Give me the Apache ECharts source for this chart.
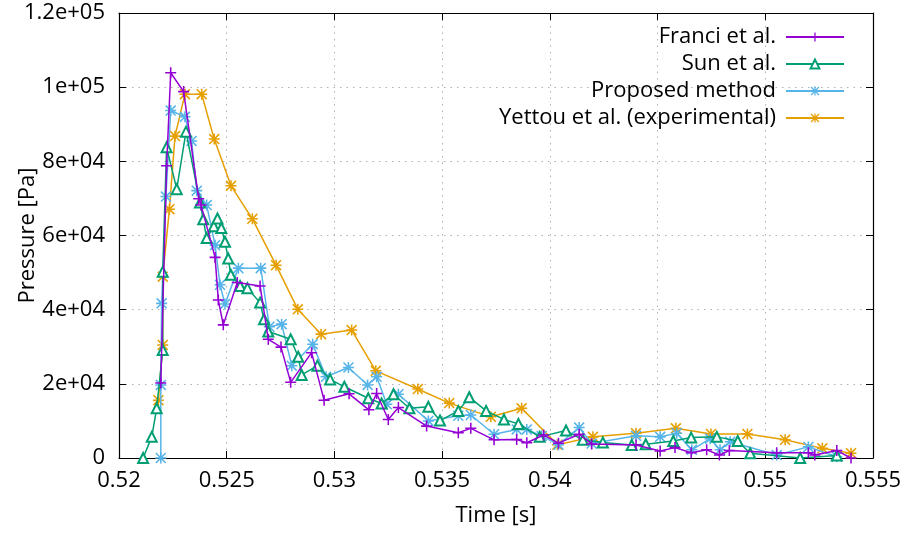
<!DOCTYPE html>
<html>
<head>
<meta charset="utf-8">
<script src="https://cdn.jsdelivr.net/npm/echarts@6/dist/echarts.min.js"></script>
<style>
  html, body { margin: 0; padding: 0; background: #fff; }
  #chart { width: 905px; height: 534px; }
</style>
</head>
<body>
<div id="chart"></div>
<script>
// pressure time histories
var franciX = [0.52194, 0.52221, 0.52240, 0.52300, 0.52370, 0.52381, 0.52446, 0.52461, 0.52484, 0.52549,
    0.52655, 0.52693, 0.52752, 0.52797, 0.52894, 0.52952, 0.53068, 0.53160, 0.53196, 0.53250,
    0.53297, 0.53428, 0.53575, 0.53633, 0.53741, 0.53846, 0.53893, 0.53971, 0.54040, 0.54136,
    0.54194, 0.54400, 0.54512, 0.54581, 0.54656, 0.54728, 0.54787, 0.54833, 0.55053, 0.55200,
    0.55230, 0.55332, 0.55398];
var franciY = [20200, 78800, 103900, 98800, 69900, 68200, 54100, 42600, 35900, 47300,
    46400, 32000, 29900, 20400, 28400, 15600, 17300, 13000, 17400, 10400,
    13600, 8600, 6800, 8000, 4900, 5000, 4100, 6200, 4000, 6400,
    3800, 3500, 1900, 2800, 1400, 2200, 800, 2000, 1400, 1400,
    800, 2000, 0];

var sunX = [0.52112, 0.52152, 0.52175, 0.52203, 0.52203, 0.52221, 0.52268, 0.52311, 0.52376, 0.52391,
    0.52407, 0.52440, 0.52457, 0.52475, 0.52492, 0.52507, 0.52519, 0.52562, 0.52596, 0.52655,
    0.52673, 0.52693, 0.52797, 0.52832, 0.52848, 0.52921, 0.52980, 0.53046, 0.53157, 0.53219,
    0.53274, 0.53348, 0.53436, 0.53490, 0.53575, 0.53626, 0.53704, 0.53787, 0.53854, 0.53953,
    0.54075, 0.54153, 0.54246, 0.54380, 0.54445, 0.54573, 0.54656, 0.54775, 0.54872, 0.54930,
    0.55162, 0.55332];
var sunY = [0, 5700, 13400, 29100, 50200, 83800, 72500, 88000, 68900, 64400,
    59300, 62500, 64600, 62000, 58300, 53800, 49400, 46400, 45800, 41900,
    37400, 34100, 32000, 27300, 22400, 24900, 21200, 19200, 16100, 14700,
    17200, 13400, 13800, 10100, 12700, 16400, 12700, 10400, 9200, 5700,
    7400, 4900, 4200, 3500, 3700, 4600, 5500, 5700, 4600, 1300,
    0, 700];

var proposedX = [0.52194, 0.52194, 0.52198, 0.52218, 0.52240, 0.52306, 0.52337, 0.52361, 0.52407, 0.52446,
    0.52469, 0.52492, 0.52554, 0.52658, 0.52698, 0.52755, 0.52802, 0.52899, 0.52961, 0.53065,
    0.53154, 0.53196, 0.53243, 0.53297, 0.53436, 0.53575, 0.53633, 0.53741, 0.53846, 0.53893,
    0.53962, 0.54040, 0.54136, 0.54194, 0.54400, 0.54512, 0.54589, 0.54659, 0.54744, 0.54790,
    0.54837, 0.55053, 0.55200, 0.55332];
var proposedY = [0, 19700, 41700, 70500, 93700, 92000, 85500, 72100, 68200, 57400,
    46700, 41500, 51200, 51200, 35400, 36100, 24900, 30700, 21900, 24400,
    19700, 21900, 14500, 17200, 10000, 11400, 11600, 6400, 7700, 7700,
    5900, 3600, 8200, 3900, 6000, 5700, 6700, 2200, 5200, 2200,
    4400, 800, 3000, 350];

var yettouX = [0.52183, 0.52203, 0.52203, 0.52234, 0.52260, 0.52306, 0.52384, 0.52442, 0.52520, 0.52619,
    0.52729, 0.52830, 0.52938, 0.53080, 0.53192, 0.53387, 0.53533, 0.53726, 0.53869, 0.54035,
    0.54200, 0.54400, 0.54585, 0.54748, 0.54917, 0.55092, 0.55265, 0.55398];
var yettouY = [15600, 30500, 48900, 67100, 86800, 98100, 98100, 86000, 73400, 64500,
    52000, 40100, 33400, 34500, 23500, 18600, 14800, 11100, 13400, 3600,
    5700, 6700, 8000, 6500, 6500, 4900, 2600, 1300];

var seriesNames = ["Franci et al.", "Sun et al.", "Proposed method", "Yettou et al. (experimental)"];
var colors = ["#9400d3", "#009e73", "#56b4e9", "#e69f00"];

// gnuplot point types: plus, open triangle, asterisk
var plusPath = "path://M4.3,0h1.4v4.3h4.3v1.4h-4.3v4.3h-1.4v-4.3h-4.3v-1.4h4.3z";
var starPath = "path://M4.3,0h1.4v4.3h4.3v1.4h-4.3v4.3h-1.4v-4.3h-4.3v-1.4h4.3z" +
    "M1,0L10,9L9,10L0,1z M9,0L10,1L1,10L0,9z";

function pairs(xs, ys) {
    var out = [];
    for (var i = 0; i < xs.length; i++) {
        out.push([xs[i], ys[i]]);
    }
    return out;
}

function sciLabel(v) {
    if (v === 0) return "0";
    var parts = Number(v).toExponential().split("e");
    var sign = parts[1].charAt(0);
    var exp = parts[1].slice(1);
    if (exp.length < 2) exp = "0" + exp;
    return parts[0] + "e" + sign + exp;
}

var font = "Open Sans";
var fs = 22;
var chart = echarts.init(document.getElementById("chart"));

var mkSeries = function (idx, data, symbol, size, bw) {
    return {
        name: seriesNames[idx],
        type: "line",
        data: data,
        symbol: symbol,
        symbolSize: size,
        showAllSymbol: true,
        color: colors[idx],
        lineStyle: { color: colors[idx], width: 1.5 },
        itemStyle: { color: colors[idx], borderColor: colors[idx], borderWidth: bw },
        emphasis: { disabled: true },
        animation: false,
        z: 10 - idx
    };
};

chart.setOption({
    backgroundColor: "#fff",
    textStyle: { fontFamily: font },
    grid: { left: 119, right: 32, top: 13, bottom: 76 },
    legend: {
        orient: "vertical",
        align: "right",
        right: 55,
        top: 21,
        itemWidth: 58,
        itemHeight: 11,
        itemGap: 5,
        textStyle: { fontFamily: font, fontSize: fs, color: "#000", padding: [0, 5, 0, 0] },
        data: seriesNames
    },
    xAxis: [
        {
            type: "value",
            min: 0.52,
            max: 0.555,
            interval: 0.005,
            name: "Time [s]",
            nameLocation: "middle",
            nameGap: 47,
            nameMoveOverlap: false,
            nameTextStyle: { fontFamily: font, fontSize: fs, color: "#000" },
            axisLine: { onZero: false, lineStyle: { color: "#000", width: 1.2 } },
            axisTick: { inside: true, length: 7, lineStyle: { color: "#000" } },
            axisLabel: {
                margin: 12,
                fontFamily: font, fontSize: fs, color: "#000",
                formatter: function (v) { return String(+v.toFixed(3)); }
            },
            splitLine: { show: true, lineStyle: { color: "#b0b0b0", type: [1.5, 5] } }
        },
        {
            type: "value",
            position: "top",
            min: 0.52,
            max: 0.555,
            interval: 0.005,
            axisLine: { onZero: false, lineStyle: { color: "#000", width: 1.2 } },
            axisTick: { inside: true, length: 7, lineStyle: { color: "#000" } },
            axisLabel: { show: false },
            splitLine: { show: false }
        }
    ],
    yAxis: [
        {
            type: "value",
            min: 0,
            max: 120000,
            interval: 20000,
            name: "Pressure [Pa]",
            nameLocation: "middle",
            nameGap: 80,
            nameMoveOverlap: false,
            nameTextStyle: { fontFamily: font, fontSize: fs, color: "#000" },
            axisLine: { show: true, onZero: false, lineStyle: { color: "#000", width: 1.2 } },
            axisTick: { show: true, inside: true, length: 7, lineStyle: { color: "#000" } },
            axisLabel: { margin: 14, fontFamily: font, fontSize: fs, color: "#000", formatter: sciLabel },
            splitLine: { show: true, lineStyle: { color: "#b0b0b0", type: [1.5, 5] } }
        },
        {
            type: "value",
            position: "right",
            min: 0,
            max: 120000,
            interval: 20000,
            axisLine: { show: true, onZero: false, lineStyle: { color: "#000", width: 1.2 } },
            axisTick: { show: true, inside: true, length: 7, lineStyle: { color: "#000" } },
            axisLabel: { show: false },
            splitLine: { show: false }
        }
    ],
    series: [
        mkSeries(0, pairs(franciX, franciY), plusPath, 11, 0),
        mkSeries(1, pairs(sunX, sunY), "emptyTriangle", 10, 1.5),
        mkSeries(2, pairs(proposedX, proposedY), starPath, 11, 0),
        mkSeries(3, pairs(yettouX, yettouY), starPath, 11, 0)
    ]
});
</script>
</body>
</html>
